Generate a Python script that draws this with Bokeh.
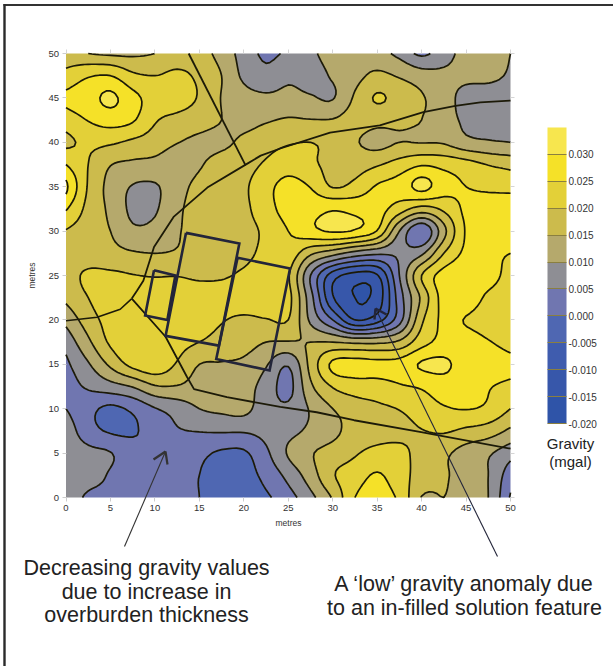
import numpy as np
from bokeh.plotting import figure
from bokeh.embed import file_html
from bokeh.resources import INLINE
from bokeh.models import (ColorBar, LinearColorMapper, FixedTicker, LinearAxis, Label, Arrow,
                          NumeralTickFormatter, Range1d)

# Gravity readings (0.001 mgal) on a 2.5 m survey grid, rows from y=50 m down to y=0 m
row_y50 = [17,15,14,14,15,17,17,13,8,4,6,9,12,13.5,12,8.5,4,8,11.5,12,10]
row_y47 = [21.5,24.5,25,21,20,21,19,15,9,6.5,9,8.5,10.5,13.5,16,14.5,12.3,11,11,11,9.5]
row_y45 = [26,28,31,26.5,23,22.5,19.5,14.8,12,11,11.5,10.5,9.7,15.7,20.5,18,15.5,12,8.5,8,8]
row_y42 = [22.5,25.2,27,25.5,20.5,18.5,17,15,13.5,14.5,15.5,15.2,15.3,17,16.5,16,15,12.5,9,8.5,8.5]
row_y40 = [19,21,20.7,19,17.5,15.2,14,14,16,18,19.5,20,18.5,15.5,13.5,15,14.8,14.5,11.5,10.5,10]
row_y37 = [25,20,15.2,14,13.5,12,14.5,17,18,20.7,23,21,18.5,18,19.5,22,24.5,23.5,22,19.8,18.5]
row_y35 = [31,19.5,13.5,9.7,9.5,13,16.5,18,19.2,23.5,26.5,24.8,19.7,21.5,25.5,27,31.5,27,25,24,23.5]
row_y32 = [25.5,18.5,14,9,9.5,14,17,18.5,19,23,27,28,29.5,28.5,27,22.5,18,21,26,27.5,28]
row_y30 = [19.7,17.5,15,11,11.5,14.5,17,18,18.5,21,25,28.5,30.5,29.5,24.7,10,0.5,13.5,25.5,28,28]
row_y27 = [17.5,17,16.5,15.5,15,15.5,17,17.5,18.5,21.5,23,16,12,8,6,6,9,20,26,26,25]
row_y25 = [17.5,21,21,20.2,19.7,19.8,19,19.3,21,23,20.5,5,-7.5,-12,-10.5,5,20,27,28,27,23]
row_y22 = [16,20,23,22.5,23.5,24,23.5,23,23.5,24,21.5,7,-9.5,-15,-13,2.5,16,27,28,24,22]
row_y20 = [11.5,17.5,22,24,24.5,24.5,24,20.5,19,19.7,20,9,0,-10,-7,3,19,26,24.7,22.5,21]
row_y17 = [6.8,14,20.8,24,24,22,20,17.5,17,15,14.7,15,15,14,14,16,23,26.5,27,25.3,23.5]
row_y15 = [4,9.5,16,21.5,23.5,19.5,15,14.7,14,10.5,5.5,16.5,26,27,26.5,27,30.5,31,27.5,27,26]
row_y12 = [3,5.7,8,10.3,14.5,14.7,13,12.5,12,8,3.5,14,20.3,22.5,23,24.5,25.5,27.5,27,25.3,24]
row_y10 = [5,1.5,-1,1,4.7,7,10,11,11.5,7,6,10.5,15,17.5,19,20.2,22.5,24.5,25.2,24,20]
row_y07 = [8,2,-0.5,-0.5,2,4.5,5.2,5.5,5.5,6.5,8.5,11,13.7,17,18,18.5,19.8,20.5,19,17.5,14]
row_y05 = [8.5,6.5,5.2,2,1,1,1,-0.7,-0.7,4,10.5,14.5,17,19.5,21.5,21.5,18,16,13,10.7,7]
row_y02 = [8,7,4.5,2,1,1,0,-2,-2,1.5,6.5,12.5,19.5,22.5,25.5,22,18,15.5,13.5,10,2]
row_y00 = [9,4,3.5,2.5,2,1,0,-2,-3,-0.8,3,8.5,15.5,25,27.5,24,14.8,15,13.7,10,-0.5]

grid_x = [0 + 2.5 * i for i in range(21)]
grid_y = [0 + 2.5 * i for i in range(21)]

levels_mgal = [-0.020,-0.015,-0.010,-0.005,0.000,0.005,0.010,0.015,0.020,0.025,0.030,0.035]
band_colors = ["#2f54a8","#3757aa","#3f5cae","#4f67b2","#7076b0","#8e8e94",
               "#b5a96c","#ccbb4c","#e3d038","#f5e128","#f7e64e"]
legend_ticks = [-0.020,-0.015,-0.010,-0.005,0.000,0.005,0.010,0.015,0.020,0.025,0.030]
axis_ticks = [0,5,10,15,20,25,30,35,40,45,50]

feature_arc_x = [50,46.6,43.8,40.2,35.3,29.7,24.1,21.9,20.4,15.9,12.1,9.9,8.7,8,7.4]
feature_arc_y = [44.7,44.5,44.1,43.4,41.9,41.1,39.3,38.5,37.6,34.9,31.6,28.2,24.4,23.3,22.4]
feature_west_x = [7.4,6.1,3.5,0]
feature_west_y = [22.4,21.2,20.3,19.9]
feature_south_x = [7.4,11.2,13.6,14.4,18.1,24.1,28.2,32.4,39.8,50]
feature_south_y = [22.4,18.1,13.6,12.2,11.3,10.2,9.6,8.7,7.4,5.5]
feature_north_x = [13.8,20.2]
feature_north_y = [50,37.4]
box_a_x = [9.9,12.3,11.4,8.9,9.9]
box_a_y = [25.6,25,20,20.5,25.6]
box_b_x = [13.5,19.5,17.2,11.2,13.5]
box_b_y = [29.8,28.6,17.1,18.2,29.8]
box_c_x = [19.3,25.2,22.9,16.9,19.3]
box_c_y = [27,25.8,14.3,15.6,27]

z = np.array([row_y00,row_y02,row_y05,row_y07,row_y10,row_y12,row_y15,row_y17,row_y20,row_y22,
              row_y25,row_y27,row_y30,row_y32,row_y35,row_y37,row_y40,row_y42,row_y45,row_y47,row_y50]) / 1000.0


def smooth_axis(a, n, axis):
    a = np.moveaxis(a, axis, 0)
    m = a.shape[0]
    out = []
    for i in range(m - 1):
        p1, p2 = a[i], a[i + 1]
        p0 = a[i - 1] if i > 0 else 2 * p1 - p2
        p3 = a[i + 2] if i + 2 < m else 2 * p2 - p1
        for k in range(n):
            t = k / n
            out.append(0.5 * (2 * p1 + (p2 - p0) * t + (2 * p0 - 5 * p1 + 4 * p2 - p3) * t ** 2
                              + (3 * p1 - p0 - 3 * p2 + p3) * t ** 3))
    out.append(a[-1])
    return np.moveaxis(np.array(out), 0, axis)


N = 6
zs = smooth_axis(smooth_axis(z, N, 0), N, 1)
xs = np.linspace(grid_x[0], grid_x[-1], zs.shape[1])
ys = np.linspace(grid_y[0], grid_y[-1], zs.shape[0])

W, H = 613, 666
L, R, T, B = 65.5, 510.0, 53.0, 497.0


def mx(px):
    return (px - L) * 50 / (R - L)


def my(py):
    return (B - py) * 50 / (B - T)


p = figure(width=W, height=H, output_backend="svg", toolbar_location=None,
           x_range=Range1d(mx(0), mx(W)), y_range=Range1d(my(H), my(0)),
           min_border_left=0, min_border_right=0, min_border_top=0, min_border_bottom=0,
           x_axis_label="metres", y_axis_label="metres", outline_line_color=None,
           background_fill_color="white", border_fill_color="white")
p.grid.visible = False

for ax in (p.xaxis[0], p.yaxis[0]):
    ax.fixed_location = 0
    ax.bounds = (0, 50)
    ax.ticker = FixedTicker(ticks=axis_ticks)
    ax.axis_line_color = None
    ax.major_tick_line_color = "#cccccc"
    ax.minor_tick_line_color = None
    ax.major_tick_in = 0
    ax.major_tick_out = 4
    ax.major_label_text_font = "Liberation Sans"
    ax.major_label_text_font_size = "9.5px"
    ax.major_label_text_color = "#333333"
    ax.major_label_standoff = 3
    ax.axis_label_text_font = "Liberation Sans"
    ax.axis_label_text_font_style = "normal"
    ax.axis_label_text_font_size = "8.5px"
    ax.axis_label_text_color = "#333333"
    ax.axis_label_standoff = 4
p.yaxis[0].axis_label_standoff = 9

for side in ("above", "right"):
    a = LinearAxis(ticker=FixedTicker(ticks=axis_ticks), axis_line_color=None, major_tick_line_color="#d5d5d5",
                   minor_tick_line_color=None, major_tick_in=0, major_tick_out=4, fixed_location=50, bounds=(0, 50),
                   major_label_text_color=None, major_label_text_font_size="1px")
    p.add_layout(a, side)

p.contour(xs, ys, zs, levels=levels_mgal, fill_color=band_colors, line_color="#1c1a08", line_width=1.7)

for fx, fy, lw in ((feature_arc_x, feature_arc_y, 1.8), (feature_west_x, feature_west_y, 1.6),
                   (feature_south_x, feature_south_y, 1.8), (feature_north_x, feature_north_y, 1.8)):
    p.line(fx, fy, line_color="#1c1a08", line_width=lw)
for bx, by in ((box_a_x, box_a_y), (box_b_x, box_b_y), (box_c_x, box_c_y)):
    p.line(bx, by, line_color="#23253a", line_width=2.6, line_join="miter")


def seg(x0, y0, x1, y1, color, width):
    p.add_layout(Arrow(end=None, x_start=mx(x0), y_start=my(y0), x_end=mx(x1), y_end=my(y1),
                       line_color=color, line_width=width))


seg(3, 4.5, 613, 4.5, "#333333", 2.2)
seg(4, 3.5, 4, 666, "#2a2a2a", 2.4)
seg(124, 546, 165, 451, "#333333", 1.1)
seg(153, 459, 165, 451, "#333333", 2.2)
seg(167, 464, 165, 451, "#333333", 2.2)
seg(497, 556, 375, 308, "#23253a", 1.1)
seg(374, 319, 375, 308, "#23253a", 2.4)
seg(386, 314, 375, 308, "#23253a", 2.4)

mapper = LinearColorMapper(palette=band_colors, low=levels_mgal[0], high=levels_mgal[-1])
cb = ColorBar(color_mapper=mapper, ticker=FixedTicker(ticks=legend_ticks),
              formatter=NumeralTickFormatter(format="0.000"),
              width=19, height=296, location=(547, H - 423), padding=0, margin=0,
              major_tick_line_color="#8a7f40", major_tick_in=19, major_tick_out=0,
              major_label_text_font="Liberation Sans", major_label_text_font_size="10px",
              major_label_text_color="#333333", label_standoff=2,
              bar_line_color=None, border_line_color=None, background_fill_color=None)
p.add_layout(cb, "center")


def txt(px, py, s, size, color="#222222"):
    p.add_layout(Label(x=mx(px), y=my(py), text=s, text_font="Liberation Sans",
                       text_font_size=size, text_color=color, text_align="center", text_baseline="middle"))


txt(570, 443, "Gravity", "15px")
txt(570, 461, "(mgal)", "15px")
txt(146, 567, "Decreasing gravity values", "21.5px")
txt(146, 591, "due to increase in", "21.5px")
txt(146, 614, "overburden thickness", "21.5px")
txt(464, 583, "A \u2018low\u2019 gravity anomaly due", "21.5px")
txt(464, 607, "to an in-filled solution feature", "21.5px")

open("out.html", "w").write(file_html(p, INLINE))
